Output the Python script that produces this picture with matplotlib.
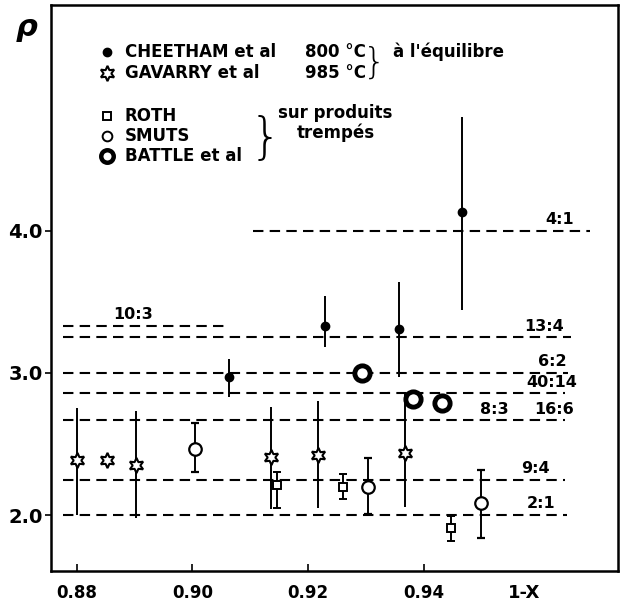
import numpy as np
import matplotlib
matplotlib.use('Agg')
import matplotlib.pyplot as plt

plt.rcParams['font.family'] = ['DejaVu Sans']
plt.rcParams['font.weight'] = 'bold'

# ---- donnees ----
cheetham_x = [0.9064, 0.9229, 0.9357, 0.9466]
cheetham_y = [2.97, 3.33, 3.31, 4.13]
cheetham_lo = [2.83, 3.18, 2.97, 3.44]
cheetham_hi = [3.10, 3.54, 3.64, 4.80]

gavarry_x = [0.8800, 0.8852, 0.8902, 0.9136, 0.9217, 0.9367]
gavarry_y = [2.39, 2.39, 2.35, 2.41, 2.42, 2.44]
gavarry_lo = [2.00, 2.39, 1.98, 2.04, 2.05, 2.06]
gavarry_hi = [2.75, 2.39, 2.73, 2.76, 2.80, 2.86]

roth_x = [0.9147, 0.9260, 0.9448]
roth_y = [2.21, 2.20, 1.91]
roth_lo = [2.05, 2.11, 1.82]
roth_hi = [2.30, 2.29, 1.99]

smuts_x = [0.9005, 0.9303, 0.9500]
smuts_y = [2.465, 2.20, 2.085]
smuts_lo = [2.30, 2.01, 1.84]
smuts_hi = [2.65, 2.40, 2.32]

battle_x = [0.9293, 0.9381, 0.9431]
battle_y = [3.00, 2.82, 2.79]

# rapports de composition (lignes tiretees)
ratio_names = ['4:1', '10:3', '13:4', '6:2', '40:14', '16:6', '9:4', '2:1']
ratio_vals = [4.0, 10 / 3, 13 / 4, 6 / 2, 40 / 14, 16 / 6, 9 / 4, 2 / 1]
ratio_x0 = [0.9105, 0.8776, 0.8776, 0.8776, 0.8776, 0.8776, 0.8776, 0.8776]
ratio_x1 = [0.9688, 0.9055, 0.9655, 0.9650, 0.9645, 0.9645, 0.9645, 0.9648]
label_x = [0.9636, 0.8897, 0.9609, 0.9622, 0.9621, 0.9626, 0.9593, 0.9603]
extra_label = '8:3'
extra_label_x = 0.9522

fig = plt.figure(figsize=(6.21, 6.03), dpi=100)
ax = fig.add_axes([51 / 621, 1 - 571 / 603, 567 / 621, 566 / 603])
ax.set_xlim(0.87552, 0.97362)
ax.set_ylim(1.606, 5.59)

dash = (0, (5, 3))
for v, a, b, name, lx in zip(ratio_vals, ratio_x0, ratio_x1, ratio_names, label_x):
    ax.hlines(v, a, b, colors='black', linestyles=dash, lw=1.5)
    ax.text(lx, v + 0.025, name, ha='center', va='bottom', fontsize=11.5, fontweight='bold')
ax.text(extra_label_x, ratio_vals[5] + 0.025, extra_label, ha='center', va='bottom',
        fontsize=11.5, fontweight='bold')


def err(y, lo, hi):
    y = np.array(y)
    return [y - np.array(lo), np.array(hi) - y]


ax.errorbar(cheetham_x, cheetham_y, yerr=err(cheetham_y, cheetham_lo, cheetham_hi),
            fmt='o', ms=6, color='black', ecolor='black', elinewidth=1.4, capsize=0, zorder=4)
ax.errorbar(gavarry_x, gavarry_y, yerr=err(gavarry_y, gavarry_lo, gavarry_hi),
            fmt='none', ecolor='black', elinewidth=1.4, capsize=0, zorder=3)
ax.plot(gavarry_x, gavarry_y, ls='none', marker=(6, 1, 0), ms=11, mfc='white',
        mec='black', mew=1.5, zorder=5)
ax.errorbar(roth_x, roth_y, yerr=err(roth_y, roth_lo, roth_hi),
            fmt='s', ms=6, mfc='white', mec='black', mew=1.4, ecolor='black',
            elinewidth=1.4, capsize=3, capthick=1.4, zorder=4)
ax.errorbar(smuts_x, smuts_y, yerr=err(smuts_y, smuts_lo, smuts_hi),
            fmt='o', ms=9, mfc='white', mec='black', mew=1.6, ecolor='black',
            elinewidth=1.4, capsize=3, capthick=1.4, zorder=4)
ax.plot(battle_x, battle_y, ls='none', marker='o', ms=11, mfc='white', mec='black',
        mew=3.5, zorder=5)

# axes
for s in ax.spines.values():
    s.set_linewidth(1.8)
ax.set_xticks([0.88, 0.90, 0.92, 0.94])
ax.set_xticklabels(['0.88', '0.90', '0.92', '0.94'])
ax.set_yticks([2.0, 3.0, 4.0])
ax.set_yticklabels(['2.0', '3.0', '4.0'])
ax.tick_params(axis='x', direction='in', length=5, width=1.2, labelsize=12, pad=9)
ax.tick_params(axis='y', direction='out', length=4, width=1.2, labelsize=14, pad=2)
fig.text(524 / 621, 1 - 593 / 603, '1-X', ha='center', va='center', fontsize=13,
         fontweight='bold')
fig.text(27 / 621, 1 - 30 / 603, r'$\rho$', ha='center', va='center', fontsize=22)

# legende manuelle
tr = ax.transAxes
mx = 0.0988
rows = [0.917, 0.880, 0.804, 0.769, 0.733]
names = ['CHEETHAM et al', 'GAVARRY et al', 'ROTH', 'SMUTS', 'BATTLE et al']
ax.plot([mx], [rows[0]], 'o', ms=6, color='black', transform=tr)
ax.plot([mx], [rows[1]], ls='none', marker=(6, 1, 0), ms=11, mfc='white', mec='black',
        mew=1.5, transform=tr)
ax.plot([mx], [rows[2]], 's', ms=6, mfc='white', mec='black', mew=1.4, transform=tr)
ax.plot([mx], [rows[3]], 'o', ms=7, mfc='white', mec='black', mew=1.4, transform=tr)
ax.plot([mx], [rows[4]], 'o', ms=9, mfc='white', mec='black', mew=3.2, transform=tr)
for yy, nm in zip(rows, names):
    ax.text(0.130, yy, nm, transform=tr, ha='left', va='center', fontsize=12,
            fontweight='bold')
ax.text(0.448, rows[0], '800 °C', transform=tr, ha='left', va='center', fontsize=12,
        fontweight='bold')
ax.text(0.448, rows[1], '985 °C', transform=tr, ha='left', va='center', fontsize=12,
        fontweight='bold')
ax.text(0.570, 0.898, '}', transform=tr, ha='center', va='center', fontsize=26,
        fontweight='light')
ax.text(0.603, rows[0], "à l'équilibre", transform=tr, ha='left', va='center',
        fontsize=12, fontweight='bold')
ax.text(0.378, 0.764, '}', transform=tr, ha='center', va='center', fontsize=36,
        fontweight='light')
ax.text(0.502, 0.809, 'sur produits', transform=tr, ha='center', va='center',
        fontsize=12, fontweight='bold')
ax.text(0.503, 0.775, 'trempés', transform=tr, ha='center', va='center',
        fontsize=12, fontweight='bold')

plt.savefig('out.png', dpi=100)
